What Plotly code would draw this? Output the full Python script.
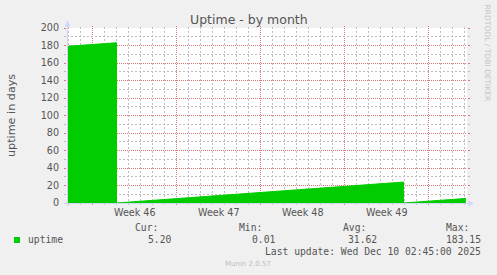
import pandas as pd
import plotly.graph_objects as go

# ---------------- data ----------------
times = ["2025-11-06 20:00", "2025-11-11 00:00", "2025-11-11 00:00",
         "2025-12-04 22:00", "2025-12-04 22:00", "2025-12-10 02:45"]
uptime = [178.99, 183.15, 0.01, 23.92, 0.01, 5.20]

week_starts = ["2025-11-09", "2025-11-16", "2025-11-23", "2025-11-30", "2025-12-07"]
week_labels = ["Week 46", "Week 47", "Week 48", "Week 49"]

y_ticks = [0, 20, 40, 60, 80, 100, 120, 140, 160, 180, 200]
y_minor = [10, 30, 50, 70, 90, 110, 130, 150, 170, 190]

stat_names = ["Cur:", "Min:", "Avg:", "Max:"]
stat_values = [5.20, 0.01, 31.62, 183.15]
series_name = "uptime"
last_update = "Last update: Wed Dec 10 02:45:00 2025"
title_text = "Uptime - by month"
y_title = "uptime in days"
watermark = "RRDTOOL / TOBI OETIKER"
footer = "Munin 2.0.57"

x_start = "2025-11-06 21:00"
x_end = "2025-12-10 05:00"

day_ticks = [d.strftime("%Y-%m-%d") for d in pd.date_range("2025-11-07", "2025-12-10", freq="D")
             if d.strftime("%Y-%m-%d") not in week_starts]

# ---------------- layout geometry ----------------
W, H = 497, 275
L, T, PW, PH = 67, 28, 400, 175

def px(x):
    return (x - L) / PW

def py(y):
    return (T + PH - y) / PH

GREEN = "#00CC00"
AXIS = "#CFD6F8"
FONT_C = "#555555"
MGRID = "#DE7878"
GRID = "#BEBEBE"
DASH = "1px,1px"

fig = go.Figure()
fig.add_trace(go.Scatter(
    x=pd.to_datetime(times), y=uptime, mode="lines",
    line=dict(color=GREEN, width=1), fill="tozeroy", fillcolor=GREEN,
    hoverinfo="skip", showlegend=False))

annotations = []
for ws, lab in zip(week_starts, week_labels):
    mid = pd.Timestamp(ws) + pd.Timedelta(hours=84)
    annotations.append(dict(x=mid, xref="x", y=py(212.3), yref="paper",
                            text=lab, showarrow=False, xanchor="center",
                            yanchor="middle", borderpad=0,
                            font=dict(family="DejaVu Sans", size=9.6, color=FONT_C)))

annotations.append(dict(x=px(248.5), y=py(19.5), xref="paper", yref="paper",
                        text=title_text, showarrow=False, xanchor="center",
                        yanchor="middle", borderpad=0,
                        font=dict(family="DejaVu Sans", size=12.5, color=FONT_C)))
annotations.append(dict(x=px(11), y=py(115), xref="paper", yref="paper",
                        text=y_title, showarrow=False, textangle=-90,
                        xanchor="center", yanchor="middle", borderpad=0,
                        font=dict(family="DejaVu Sans", size=11.2, color=FONT_C)))
annotations.append(dict(x=px(487.7), y=py(53.3), xref="paper", yref="paper",
                        text=watermark, showarrow=False, textangle=90,
                        xanchor="center", yanchor="middle", borderpad=0,
                        font=dict(family="DejaVu Sans", size=7.5, color="#C4C4C4")))
annotations.append(dict(x=px(248), y=py(264.3), xref="paper", yref="paper",
                        text=footer, showarrow=False, xanchor="center",
                        yanchor="middle", borderpad=0,
                        font=dict(family="DejaVu Sans", size=7, color="#BDBDBD")))

MONO = dict(family="DejaVu Sans Mono", size=9.7, color=FONT_C)
annotations.append(dict(x=px(26.7), y=py(239.7), xref="paper", yref="paper",
                        text=series_name, showarrow=False, xanchor="left",
                        yanchor="middle", borderpad=0, font=MONO))
name_right = [159.3, 263.3, 366.7, 470.0]
val_right = [171.7, 275.7, 378.3, 482.3]
for nm, v, xr1, xr2 in zip(stat_names, stat_values, name_right, val_right):
    annotations.append(dict(x=px(xr1), y=py(227.7), xref="paper", yref="paper",
                            text=nm, showarrow=False, xanchor="right",
                            yanchor="middle", borderpad=0, font=MONO))
    annotations.append(dict(x=px(xr2), y=py(239.7), xref="paper", yref="paper",
                            text=f"{v:.2f}", showarrow=False, xanchor="right",
                            yanchor="middle", borderpad=0, font=MONO))
annotations.append(dict(x=px(482.3), y=py(251.2), xref="paper", yref="paper",
                        text=last_update, showarrow=False, xanchor="right",
                        yanchor="middle", borderpad=0, font=MONO))

shapes = []
# daily (minor) and weekly (major) grid lines, positioned by the x scale
for d in day_ticks:
    shapes.append(dict(type="line", xref="x", yref="paper", x0=d, x1=d,
                       y0=py(205), y1=py(26), layer="between",
                       line=dict(color=GRID, width=1, dash="2px,2px")))
for ws in week_starts:
    shapes.append(dict(type="line", xref="x", yref="paper", x0=ws, x1=ws,
                       y0=py(205), y1=py(26), layer="between",
                       line=dict(color=MGRID, width=1, dash=DASH)))
shapes += [
    dict(type="rect", xref="paper", yref="paper", x0=px(14), x1=px(20),
         y0=py(243), y1=py(237), fillcolor=GREEN, line=dict(width=0)),
    dict(type="line", xref="paper", yref="paper", x0=px(67.5), x1=px(67.5),
         y0=py(205.5), y1=py(25), line=dict(color=AXIS, width=1)),
    dict(type="line", xref="paper", yref="paper", x0=px(64), x1=px(469),
         y0=py(203.5), y1=py(203.5), line=dict(color=AXIS, width=1)),
    dict(type="path", xref="paper", yref="paper",
         path=f"M {px(64.5)} {py(26.5)} L {px(70.5)} {py(26.5)} L {px(67.5)} {py(20.5)} Z",
         fillcolor=AXIS, line=dict(width=0)),
    dict(type="path", xref="paper", yref="paper",
         path=f"M {px(468.5)} {py(200.5)} L {px(468.5)} {py(206.5)} L {px(474)} {py(203.5)} Z",
         fillcolor=AXIS, line=dict(width=0)),
]

fig.update_layout(
    width=W, height=H,
    margin=dict(l=L, r=W - L - PW, t=T, b=H - T - PH, pad=0),
    paper_bgcolor="#F0F0F0", plot_bgcolor="#FFFFFF",
    showlegend=False,
    annotations=annotations, shapes=shapes,
    xaxis=dict(
        type="date", range=[x_start, x_end], showline=False, zeroline=False,
        showticklabels=False, ticks="", showgrid=False,
        fixedrange=True),
    yaxis=dict(
        range=[0, 200], tickmode="array", tickvals=y_ticks, showline=False, zeroline=False,
        ticks="outside", ticklen=2, tickcolor=MGRID, mirror="ticks",
        ticklabelstandoff=3,
        tickfont=dict(family="DejaVu Sans", size=9.6, color=FONT_C),
        showgrid=True, gridcolor=MGRID, gridwidth=1, griddash=DASH,
        minor=dict(tickmode="array", tickvals=y_minor, showgrid=True, gridcolor=GRID,
                   gridwidth=1, griddash="2px,2px", ticks="outside", ticklen=2,
                   tickcolor=GRID),
        fixedrange=True),
)

fig.write_html("out.html")
